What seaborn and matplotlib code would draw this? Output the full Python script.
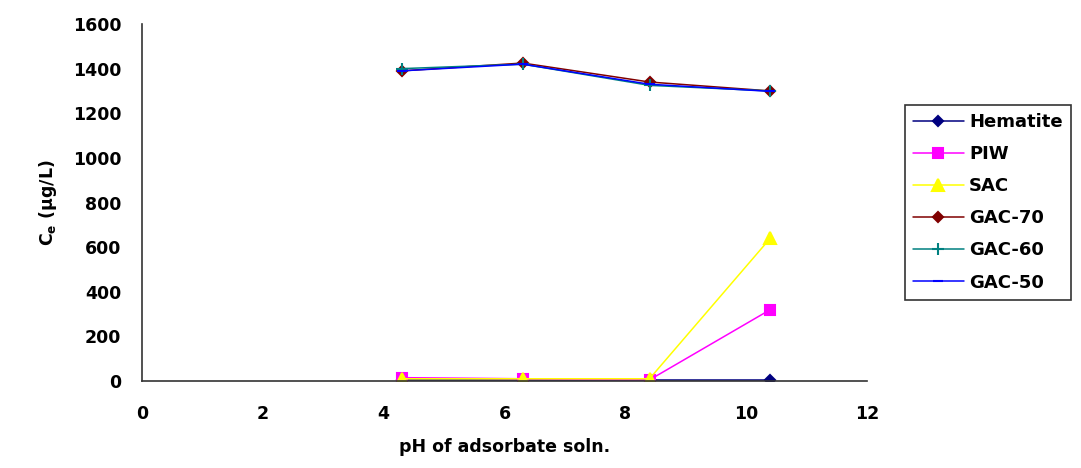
import numpy as np
import pandas as pd
import seaborn as sns
import matplotlib
matplotlib.use("Agg")
import matplotlib.pyplot as plt

# Datos
ph = [4.3, 6.3, 8.4, 10.4]
series_names = ["Hematite", "PIW", "SAC", "GAC-70", "GAC-60", "GAC-50"]
hematite = [5, 5, 5, 5]
piw = [15, 10, 5, 320]
sac = [10, 10, 10, 640]
gac70 = [1390, 1425, 1340, 1300]
gac60 = [1400, 1420, 1325, 1300]
gac50 = [1390, 1420, 1330, 1298]

colors = ["#000080", "#FF00FF", "#FFFF00", "#800000", "#008080", "#0000FF"]
markers = ["D", "s", "^", "D", "+", "_"]
msizes = [5.5, 6.5, 8, 5.5, 9, 7]

values = [hematite, piw, sac, gac70, gac60, gac50]
df = pd.DataFrame({
    "pH": ph * len(series_names),
    "Ce": sum(values, []),
    "serie": np.repeat(series_names, len(ph)),
})

sns.set_style("white")
plt.rcParams["font.family"] = ["DejaVu Sans"]
plt.rcParams["font.weight"] = "bold"
plt.rcParams["text.color"] = "black"
plt.rcParams["axes.labelcolor"] = "black"
plt.rcParams["mathtext.fontset"] = "custom"
plt.rcParams["mathtext.rm"] = "DejaVu Sans:bold"
plt.rcParams["mathtext.it"] = "DejaVu Sans:bold"

fig = plt.figure(figsize=(10.81, 4.68), dpi=100)
ax = fig.add_axes([142 / 1081, 1 - 381 / 468, 725 / 1081, 357 / 468])

for name, c, m, s in zip(series_names, colors, markers, msizes):
    sub = df[df["serie"] == name]
    sns.lineplot(data=sub, x="pH", y="Ce", ax=ax, color=c, marker=m,
                 markersize=s, markeredgecolor=c, markerfacecolor=c,
                 markeredgewidth=1.5, linewidth=1.1, label=name)

ax.set_xlim(0, 12)
ax.set_ylim(0, 1600)
ax.set_xticks(range(0, 13, 2))
ax.set_yticks(range(0, 1601, 200))
ax.tick_params(axis="both", direction="out", length=5, width=1, colors="#333333",
               labelcolor="black", labelsize=12.5)
for lab in ax.get_xticklabels() + ax.get_yticklabels():
    lab.set_fontweight("bold")
ax.tick_params(axis="x", pad=12)
ax.tick_params(axis="y", pad=10)
for side in ["top", "right"]:
    ax.spines[side].set_visible(False)
for side in ["left", "bottom"]:
    ax.spines[side].set_color("#333333")
    ax.spines[side].set_linewidth(1.2)

ax.set_xlabel("pH of adsorbate soln.", fontsize=12.5, fontweight="bold", labelpad=11)
ax.set_ylabel(r"C$_{e}$ (µg/L)", fontsize=12.5, fontweight="bold", labelpad=10)

leg = ax.legend(loc="upper left", bbox_to_anchor=(905 / 1081, 1 - 105 / 468),
                bbox_transform=fig.transFigure, frameon=True, fancybox=False,
                edgecolor="black", fontsize=13, handlelength=2.8,
                handletextpad=0.3, labelspacing=0.78, borderpad=0.45,
                borderaxespad=0)
leg.get_frame().set_linewidth(1.2)
for t in leg.get_texts():
    t.set_fontweight("bold")
    t.set_color("black")

fig.savefig("out.png", dpi=100)
